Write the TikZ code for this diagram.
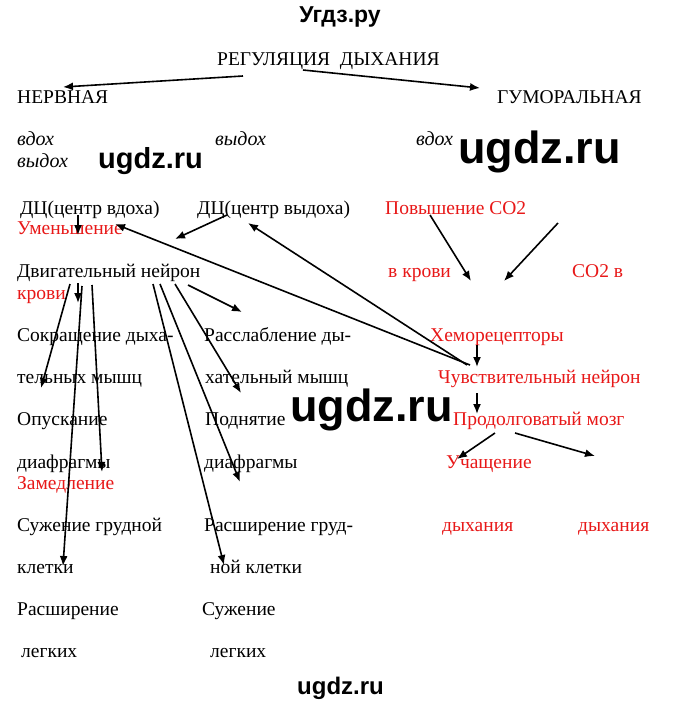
\documentclass[tikz,border=0pt]{standalone}
\usepackage{fontspec}
\setmainfont{Liberation Serif}
\newfontfamily\wmfont{Liberation Sans}
\usetikzlibrary{arrows.meta}
\definecolor{redtxt}{RGB}{232,24,24}
\begin{document}
\begin{tikzpicture}[x=1pt,y=-1pt,
  txt/.style={anchor=base west,inner sep=0pt,font=\fontsize{19.5}{22}\selectfont},
  rtxt/.style={txt,text=redtxt},
  itxt/.style={anchor=base west,inner sep=0pt,font=\fontsize{20}{22}\selectfont\itshape},
  arr/.style={-{Latex[length=10pt,width=8pt]},line width=1.6pt}]
\fill[white] (0,0) rectangle (680,705);
\useasboundingbox (0,0) rectangle (680,705);
% watermarks
\node[anchor=base,inner sep=0pt,font=\wmfont\bfseries\fontsize{23}{24}\selectfont] (wtop) at (340,22) {Угдз.ру};
\node[anchor=base west,inner sep=0pt,font=\wmfont\bfseries\fontsize{29}{30}\selectfont] (w1) at (98,168) {ugdz.ru};
\node[anchor=base west,inner sep=0pt,font=\wmfont\bfseries\fontsize{45}{46}\selectfont] (w2) at (458,163) {ugdz.ru};
\node[anchor=base west,inner sep=0pt,font=\wmfont\bfseries\fontsize{45}{46}\selectfont] (w3) at (290,421) {ugdz.ru};
\node[anchor=base west,inner sep=0pt,font=\wmfont\bfseries\fontsize{24}{26}\selectfont] (w4) at (297,694) {ugdz.ru};
% headings
\node[txt] (reg) at (217,65) {РЕГУЛЯЦИЯ\ \ ДЫХАНИЯ};
\node[txt] (nerv) at (17,103) {НЕРВНАЯ};
\node[txt] (gum) at (497,103) {ГУМОРАЛЬНАЯ};
\node[itxt] (i1) at (17,145) {вдох};
\node[itxt] (i2) at (17,167) {выдох};
\node[itxt] (i3) at (215,145) {выдох};
\node[itxt] (i4) at (416,145) {вдох};
% left column
\node[txt] (dcin) at (20,214) {ДЦ(центр вдоха)};
\node[txt] (dcout) at (197,214) {ДЦ(центр выдоха)};
\node[rtxt] (umen) at (17,234) {Уменьшение};
\node[txt] (dvig) at (17,277) {Двигательный нейрон};
\node[rtxt] (krovi) at (17,299) {крови};
\node[txt] (sok1) at (17,341) {Сокращение дыха-};
\node[txt] (sok2) at (17,383) {тельных мышц};
\node[txt] (op1) at (17,425) {Опускание};
\node[txt] (op2) at (17,468) {диафрагмы};
\node[rtxt] (zam) at (17,489) {Замедление};
\node[txt] (suz1) at (17,531) {Сужение грудной};
\node[txt] (suz2) at (17,573) {клетки};
\node[txt] (ras1) at (17,615) {Расширение};
\node[txt] (ras2) at (21,657) {легких};
% middle column
\node[txt] (rl1) at (204,341) {Расслабление ды-};
\node[txt] (rl2) at (205,383) {хательный мышц};
\node[txt] (pod1) at (205,425) {Поднятие};
\node[txt] (pod2) at (204,468) {диафрагмы};
\node[txt] (rg1) at (204,531) {Расширение груд-};
\node[txt] (rg2) at (210,573) {ной клетки};
\node[txt] (sl1) at (202,615) {Сужение};
\node[txt] (sl2) at (210,657) {легких};
% right column
\node[rtxt] (pov) at (385,214) {Повышение CO2};
\node[rtxt] (vkr) at (388,277) {в крови};
\node[rtxt] (co2) at (572,277) {CO2 в};
\node[rtxt] (hem) at (430,341) {Хеморецепторы};
\node[rtxt] (chuv) at (438,383) {Чувствительный нейрон};
\node[rtxt] (prod) at (453,425) {Продолговатый мозг};
\node[rtxt] (uch) at (446,468) {Учащение};
\node[rtxt] (dyh1) at (442,531) {дыхания};
\node[rtxt] (dyh2) at (578,531) {дыхания};
% coordinates
\coordinate (regL) at (243,76);  \coordinate (nervT) at (63,87);
\coordinate (regR) at (303,70);  \coordinate (gumT) at (480,88);
\coordinate (dcinB) at (78,215); \coordinate (dcinE) at (78,235);
\coordinate (dcoutB) at (227,215); \coordinate (dcoutE) at (175,239);
\coordinate (chuvA) at (470,365); \coordinate (umenE) at (115,224);
\coordinate (chuvB) at (467,365); \coordinate (dcoutU) at (248,223);
\coordinate (povB) at (430,215); \coordinate (povE) at (471,281);
\coordinate (co2B) at (558,223); \coordinate (co2E) at (504,281);
\coordinate (hemB) at (477,345); \coordinate (hemE) at (477,367);
\coordinate (chuvD) at (477,393); \coordinate (prodT) at (477,414);
\coordinate (prodL) at (495,433); \coordinate (uchE) at (457,459);
\coordinate (prodR) at (515,433); \coordinate (prodRE) at (595,456);
\coordinate (d1) at (70,284);  \coordinate (e1) at (41,388);
\coordinate (d2) at (78,283);  \coordinate (e2) at (78,303);
\coordinate (d3) at (82,286);  \coordinate (e3) at (63,566);
\coordinate (d4) at (92,285);  \coordinate (e4) at (102,472);
\coordinate (d5) at (153,284); \coordinate (e5) at (224,565);
\coordinate (d6) at (160,284); \coordinate (e6) at (240,482);
\coordinate (d7) at (175,284); \coordinate (e7) at (241,393);
\coordinate (d8) at (188,285); \coordinate (e8) at (242,312);
% arrows
\draw[arr] (regL) -- (nervT);
\draw[arr] (regR) -- (gumT);
\draw[arr] (dcinB) -- (dcinE);
\draw[arr] (dcoutB) -- (dcoutE);
\draw[arr] (chuvA) -- (umenE);
\draw[arr] (chuvB) -- (dcoutU);
\draw[arr] (povB) -- (povE);
\draw[arr] (co2B) -- (co2E);
\draw[arr] (hemB) -- (hemE);
\draw[arr] (chuvD) -- (prodT);
\draw[arr] (prodL) -- (uchE);
\draw[arr] (prodR) -- (prodRE);
\draw[arr] (d1) -- (e1);
\draw[arr] (d2) -- (e2);
\draw[arr] (d3) -- (e3);
\draw[arr] (d4) -- (e4);
\draw[arr] (d5) -- (e5);
\draw[arr] (d6) -- (e6);
\draw[arr] (d7) -- (e7);
\draw[arr] (d8) -- (e8);
\end{tikzpicture}
\end{document}
